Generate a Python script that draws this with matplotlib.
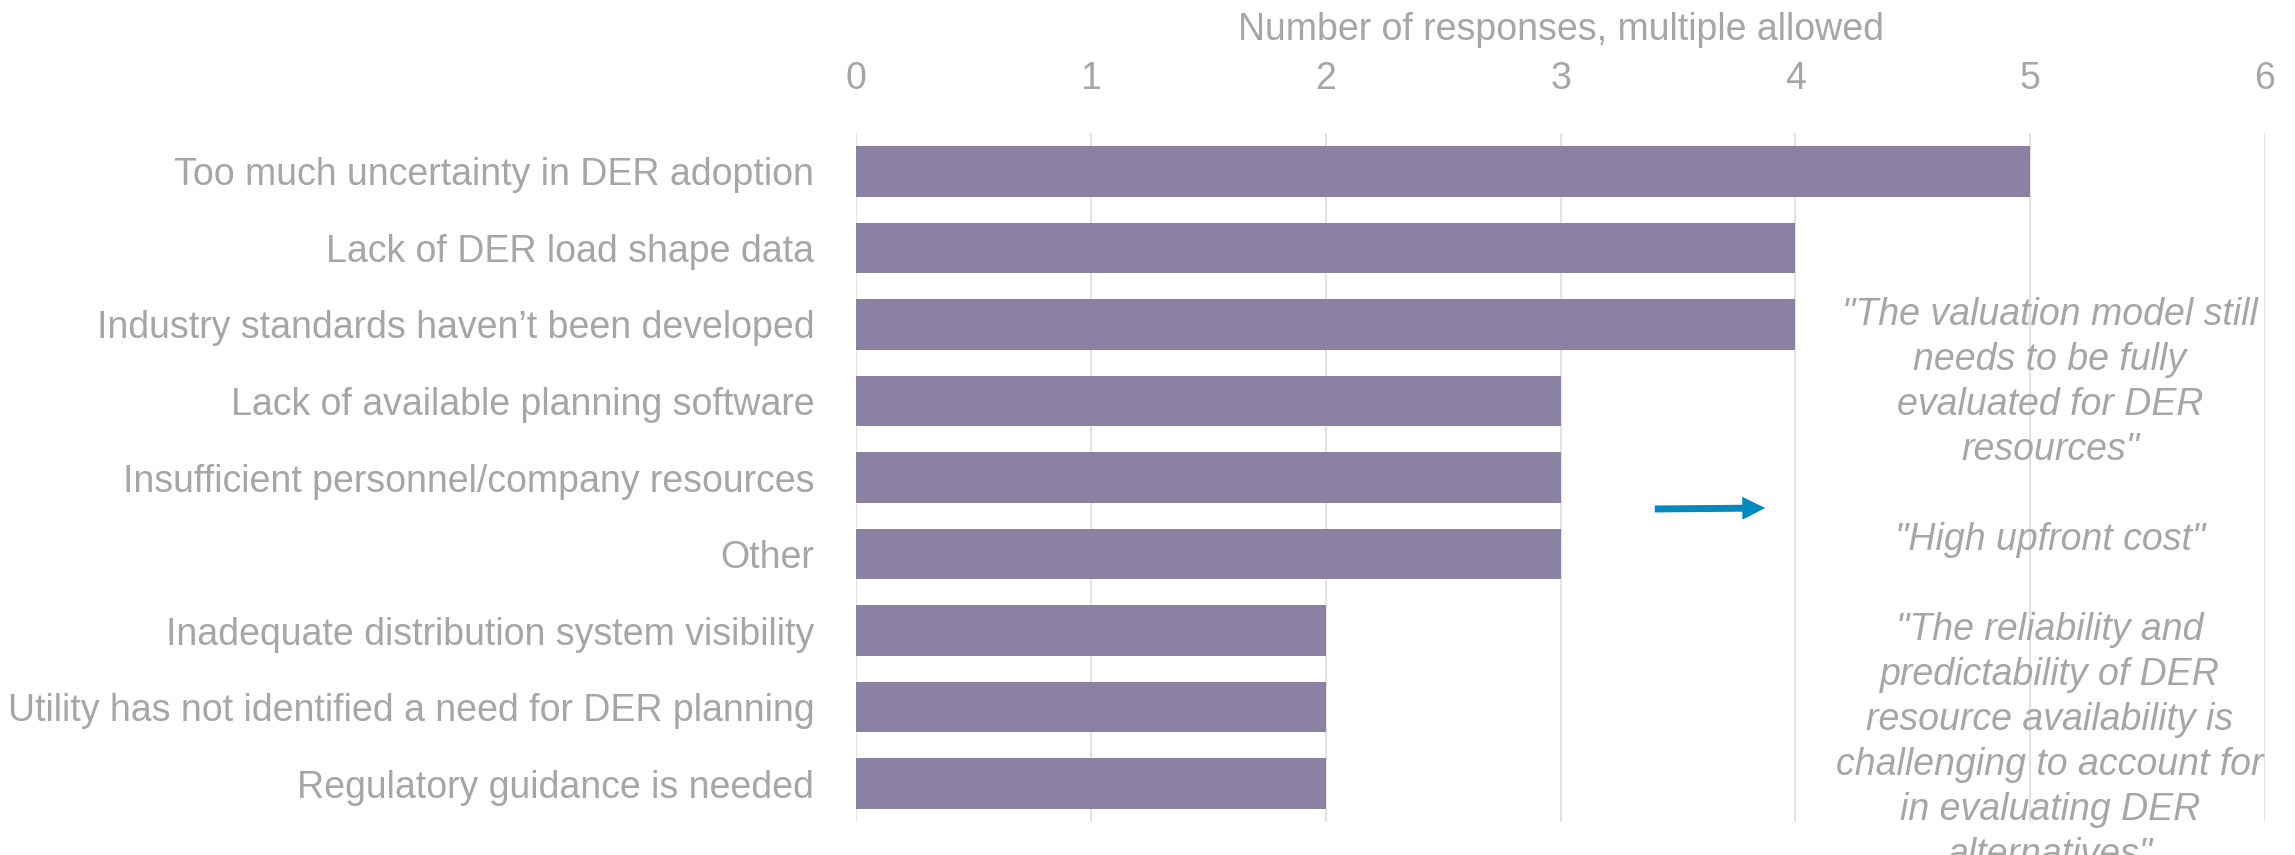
import matplotlib
matplotlib.use("Agg")
import matplotlib.pyplot as plt
from matplotlib.patches import FancyArrowPatch

categories = [
    "Too much uncertainty in DER adoption",
    "Lack of DER load shape data",
    "Industry standards haven\u2019t been developed",
    "Lack of available planning software",
    "Insufficient personnel/company resources",
    "Other",
    "Inadequate distribution system visibility",
    "Utility has not identified a need for DER planning",
    "Regulatory guidance is needed",
]
values = [5, 4, 4, 3, 3, 3, 2, 2, 2]
xticks = [0, 1, 2, 3, 4, 5, 6]
xlabel = "Number of responses, multiple allowed"
quote_text = ('"The valuation model still\nneeds to be fully\nevaluated for DER\nresources"\n\n'
              '"High upfront cost"\n\n'
              '"The reliability and\npredictability of DER\nresource availability is\n'
              'challenging to account for\nin evaluating DER\nalternatives"')

plt.rcParams['font.family'] = ['Liberation Sans', 'DejaVu Sans']
GRAY = "#A6A6A6"
BAR = "#8B82A3"
FS = 27

fig = plt.figure(figsize=(22.95, 8.55), dpi=100)
ax = fig.add_axes([856/2295, 1-822/855, (2265-856)/2295, (822-133)/855])

ypos = list(range(len(categories)))
ax.barh(ypos, values, height=0.66, color=BAR, zorder=3)
ax.set_ylim(len(categories)-0.5, -0.5)
ax.set_xlim(0, 6)
ax.set_yticks(ypos)
ax.set_yticklabels(categories, fontsize=FS, color=GRAY)
ax.set_xticks(xticks)
ax.set_xticklabels([str(t) for t in xticks], fontsize=FS, color=GRAY)
ax.xaxis.tick_top()
ax.xaxis.set_label_position('top')
ax.set_xlabel(xlabel, fontsize=FS, color=GRAY, labelpad=15)
ax.tick_params(axis='both', length=0)
ax.tick_params(axis='y', pad=30)
ax.tick_params(axis='x', pad=26)
ax.grid(axis='x', color="#E3E3E3", linewidth=1.5, zorder=0)
for s in ax.spines.values():
    s.set_visible(False)

fig.text(2050/2295, 1-585/855, quote_text, fontsize=FS, color=GRAY, style='italic',
         ha='center', va='center', multialignment='center', linespacing=1.32)

arrow = FancyArrowPatch((1652, 855-509), (1768, 855-508), transform=None,
                        arrowstyle="simple,head_length=0.66,head_width=0.66,tail_width=0.2",
                        mutation_scale=25, color="#0089C1", linewidth=0)
fig.patches.append(arrow)

fig.savefig("out.png", dpi=100)
